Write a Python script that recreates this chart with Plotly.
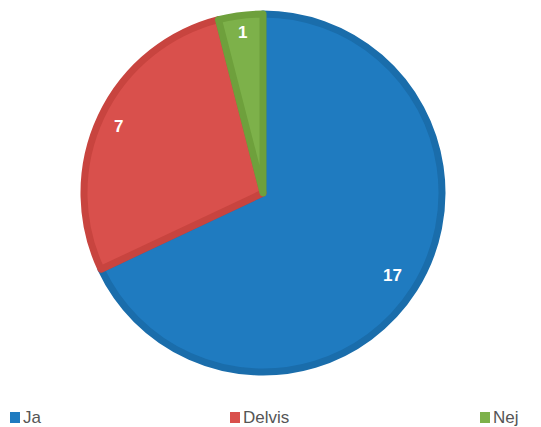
import math
import plotly.graph_objects as go

labels = ["Ja", "Delvis", "Nej"]
values = [17, 7, 1]
fill_colors = ["#1F7BC0", "#D9504C", "#7DB14A"]
line_colors = ["#1A6DAB", "#C8443F", "#6EA03C"]

W, H = 541, 427
cx, cy, R = 263, 193, 179  # pixel center / radius of pie

fig = go.Figure()
fig.add_trace(go.Pie(
    labels=labels, values=values, sort=False, direction="clockwise", rotation=0,
    marker=dict(colors=fill_colors, line=dict(color=line_colors, width=7)),
    textinfo="none", hoverinfo="label+value", showlegend=False,
    domain=dict(x=[(cx - R) / W, (cx + R) / W], y=[1 - (cy + R) / H, 1 - (cy - R) / H]),
))

# value labels placed along each slice's mid angle
total = sum(values)
cum = 0
ann = []
for lab, v in zip(labels, values):
    mid = (cum + v / 2) / total * 2 * math.pi
    cum += v
    rr = 0.915 * (R + 3)
    px = cx + rr * math.sin(mid)
    py = cy - rr * math.cos(mid) - 7
    ann.append(dict(x=px / W, y=1 - py / H, xref="paper", yref="paper", text=f"<b>{v}</b>",
                    showarrow=False, font=dict(family="Liberation Sans, Arial", size=17, color="white")))

# legend (custom, spread across the bottom)
legend_x = [10, 230, 480]
shapes = []
for lab, col, lx in zip(labels, fill_colors, legend_x):
    shapes.append(dict(type="rect", xref="paper", yref="paper",
                       x0=lx / W, x1=(lx + 10) / W, y0=1 - 423 / H, y1=1 - 412 / H,
                       fillcolor=col, line=dict(width=0)))
    ann.append(dict(x=(lx + 11) / W, y=1 - 417 / H, xref="paper", yref="paper", text=lab,
                    xanchor="left", yanchor="middle", showarrow=False,
                    font=dict(family="Liberation Sans, Arial", size=17, color="#555555")))

fig.update_layout(
    width=W, height=H, margin=dict(l=0, r=0, t=0, b=0),
    paper_bgcolor="white", plot_bgcolor="white",
    annotations=ann, shapes=shapes,
)
fig.write_html("out.html", config={"displayModeBar": False},
               post_script="document.body.style.margin='0';document.body.style.overflow='hidden';")
